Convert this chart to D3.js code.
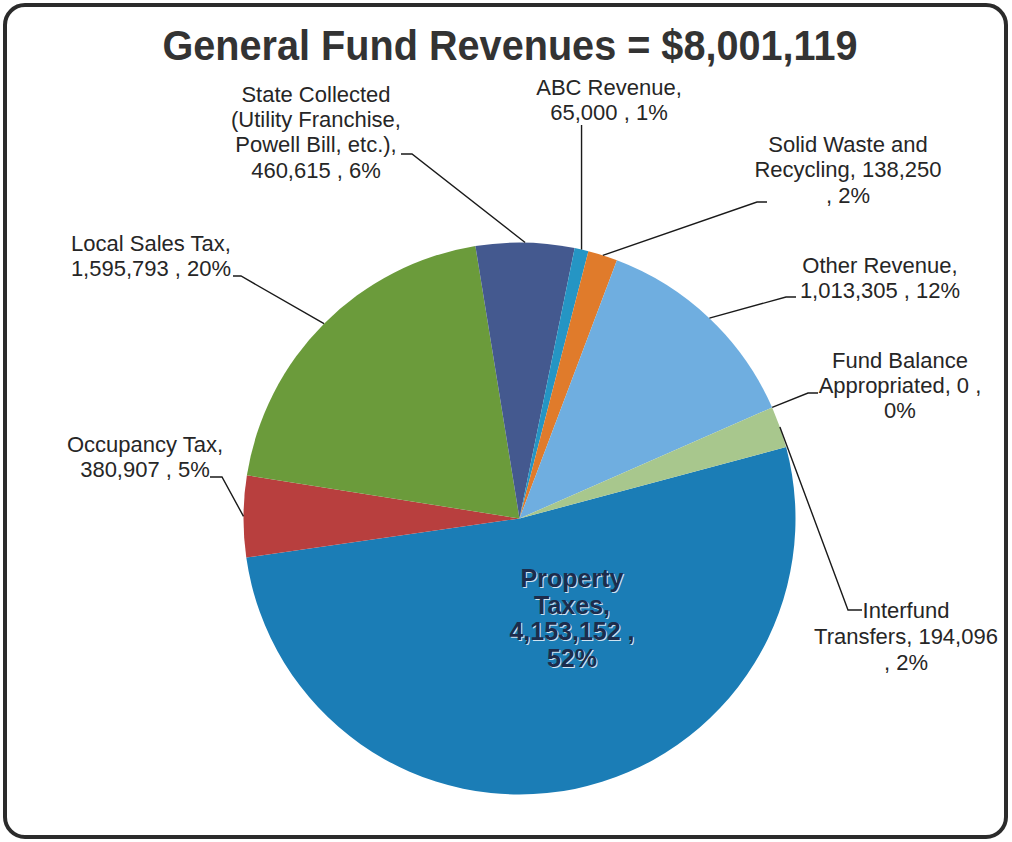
<!DOCTYPE html>
<html>
<head>
<meta charset="utf-8">
<script src="https://cdn.jsdelivr.net/npm/d3@7"></script>
<style>
  html, body { margin: 0; padding: 0; background: #ffffff; }
  svg { display: block; }
  text { font-family: "Liberation Sans", Arial, sans-serif; }
</style>
</head>
<body>
<svg id="chart" width="1012" height="842"></svg>
<script>
// ---- data ----
const titleText = "General Fund Revenues = $8,001,119";
const categories = [
  "Property Taxes",
  "Occupancy Tax",
  "Local Sales Tax",
  "State Collected (Utility Franchise, Powell Bill, etc.)",
  "ABC Revenue",
  "Solid Waste and Recycling",
  "Other Revenue",
  "Fund Balance Appropriated",
  "Interfund Transfers"
];
const values = [4153152, 380907, 1595793, 460615, 65000, 138250, 1013305, 0, 194096];
const percentLabels = ["52%", "5%", "20%", "6%", "1%", "2%", "12%", "0%", "2%"];

// ---- styles / layout ----
const colors = ["#1b7db6", "#b83f3e", "#6b9b3b", "#44598f", "#2595c4", "#e07b2b", "#6faee0", "#8fb4d8", "#a8c78d"];
const cx = 519.5, cy = 518.5, R = 276;
const startDeg = 75;
// label layout: center x, first baseline, line step, tokens per line, leader elbow points
const labelLayout = [
  { x: 572, y: 587, dy: 26.7, breaks: [1, 1, 2, 1], inside: true },
  { x: 145, y: 452, dy: 25, breaks: [2, 3], elbow: [[210, 477], [222, 477]] },
  { x: 151, y: 251, dy: 25, breaks: [3, 3], elbow: [[233, 276], [241, 276]] },
  { x: 316, y: 102, dy: 25.2, breaks: [2, 2, 3, 3], elbow: [[401, 154], [412, 154]] },
  { x: 609, y: 95, dy: 25, breaks: [2, 3], vertical: 125 },
  { x: 848, y: 152, dy: 25.3, breaks: [3, 2, 2], elbow: [[767, 202], [757, 202]] },
  { x: 880, y: 273, dy: 24.5, breaks: [2, 3], elbow: [[796, 297], [786, 297]] },
  { x: 900, y: 368, dy: 25, breaks: [2, 3, 1], elbow: [[818, 393], [808, 393]] },
  { x: 906, y: 618, dy: 26, breaks: [1, 2, 2], elbow: [[862, 610], [848, 610]] }
];

const svg = d3.select("#chart");
const fmt = d3.format(",");

// frame
svg.append("rect")
  .attr("x", 5).attr("y", 5).attr("width", 1001).attr("height", 832)
  .attr("rx", 20).attr("ry", 20)
  .attr("fill", "#ffffff").attr("stroke", "#2b2b2b").attr("stroke-width", 4);

// title
svg.append("text")
  .attr("x", 510).attr("y", 60)
  .attr("text-anchor", "middle")
  .attr("font-size", 42).attr("font-weight", "bold")
  .attr("fill", "#333333")
  .attr("textLength", 695).attr("lengthAdjust", "spacingAndGlyphs")
  .text(titleText);

const rad = Math.PI / 180;
const data = categories.map((c, i) => ({ name: c, value: values[i], pct: percentLabels[i], i }));
const pie = d3.pie().value(d => d.value).sort(null)
  .startAngle(startDeg * rad).endAngle(startDeg * rad + 2 * Math.PI);
const arcs = pie(data);
const arc = d3.arc().innerRadius(0).outerRadius(R);

const g = svg.append("g").attr("transform", `translate(${cx},${cy})`);
g.selectAll("path.slice").data(arcs).enter().append("path")
  .attr("class", "slice")
  .attr("d", arc)
  .attr("fill", (d, i) => colors[i]);

function labelLines(d, layout) {
  const full = `${d.data.name}, ${fmt(d.data.value)} , ${d.data.pct}`;
  const tokens = full.split(" ");
  const lines = [];
  let k = 0;
  layout.breaks.forEach(n => { lines.push(tokens.slice(k, k + n).join(" ")); k += n; });
  return lines;
}

arcs.forEach((d, i) => {
  const L = labelLayout[i];
  const lines = labelLines(d, L);
  const mid = (d.startAngle + d.endAngle) / 2;
  const ex = cx + R * Math.sin(mid), ey = cy - R * Math.cos(mid);

  if (L.inside) {
    // embossed effect
    [[1, 1, "#cfe4f2"], [0, 0, "#1d2c4c"]].forEach(([ox, oy, col]) => {
      const t = svg.append("text")
        .attr("text-anchor", "middle")
        .attr("font-size", 25).attr("font-weight", "bold")
        .attr("fill", col);
      lines.forEach((ln, j) => {
        t.append("tspan").attr("x", L.x + ox).attr("y", L.y + j * L.dy + oy).text(ln);
      });
    });
    return;
  }

  // leader line
  let pts;
  if (L.vertical !== undefined) {
    pts = [[ex, L.vertical], [ex, ey]];
  } else {
    pts = [...L.elbow, [ex, ey]];
  }
  svg.append("path")
    .attr("d", d3.line()(pts))
    .attr("fill", "none")
    .attr("stroke", "#1a1a1a")
    .attr("stroke-width", 1.4);

  const t = svg.append("text")
    .attr("text-anchor", "middle")
    .attr("font-size", 22)
    .attr("fill", "#262626");
  lines.forEach((ln, j) => {
    t.append("tspan").attr("x", L.x).attr("y", L.y + j * L.dy).text(ln);
  });
});
</script>
</body>
</html>
